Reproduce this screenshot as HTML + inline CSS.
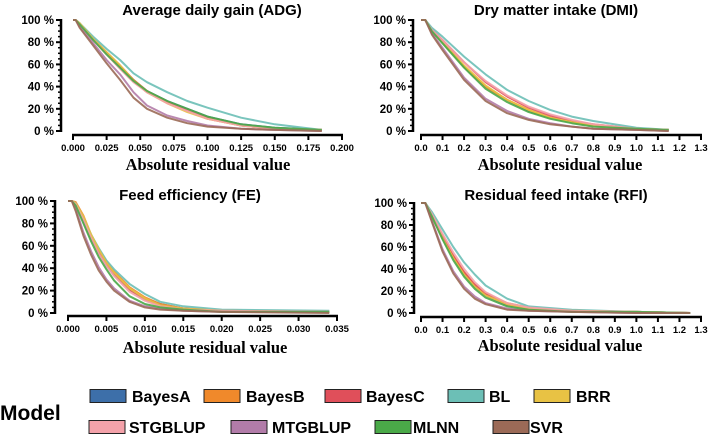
<!DOCTYPE html>
<html><head><meta charset="utf-8"><style>
body{margin:0;background:#fff;}
svg{display:block;font-family:"Liberation Sans",sans-serif;}
</style></head><body>
<svg id="c" width="708" height="435" viewBox="0 0 708 435"></svg>
<script>
const seriesNames=["BayesA","BayesB","BayesC","BL","BRR","STGBLUP","MTGBLUP","MLNN","SVR"];
const seriesColors=["#3d6fa9","#f0892b","#e04f5a","#6cbfb6","#e8c244","#f4a2aa","#b27ca9","#4aa948","#9b6a57"];
// ADG
const adgX=[0,0.002,0.005,0.015,0.025,0.035,0.045,0.055,0.07,0.085,0.1,0.125,0.15,0.185];
const adgBayesA=[100,100,96,82,70,58,46,36,27,20,13,6,3,1];
const adgBayesB=[100,100,97,83,71,59,46,36,26,18,11,5,2,1];
const adgBayesC=[100,100,96,82,70,58,45,35,26,19,12,5,2,1];
const adgBL=[100,100,97,85,74,64,52,44,35,27,21,12,6,1];
const adgBRR=[100,100,97,83,71,59,45,35,25,17,11,5,2,1];
const adgSTGBLUP=[100,100,96,82,69,56,44,35,25,18,11,5,2,1];
const adgMTGBLUP=[100,100,94,79,64,51,35,23,14,9,5,2,1,0];
const adgMLNN=[100,100,96,82,69,57,45,36,27,20,13,6,3,1];
const adgSVR=[100,100,93,77,61,46,30,20,12,7,4,2,1,0];
// DMI
const dmiX=[0,0.02,0.05,0.1,0.2,0.3,0.4,0.5,0.6,0.7,0.8,1.0,1.15];
const dmiBayesA=[100,100,90,80,58,40,28,18,12,8,5,2,1];
const dmiBayesB=[100,100,90,80,58,40,28,19,12,8,5,2,1];
const dmiBayesC=[100,100,91,82,62,44,31,21,14,9,6,2,1];
const dmiBL=[100,100,93,85,67,51,37,27,19,13,9,3,1];
const dmiBRR=[100,100,90,80,59,41,28,19,12,8,5,2,1];
const dmiSTGBLUP=[100,100,91,82,62,45,32,22,15,10,6,2,1];
const dmiMTGBLUP=[100,100,88,75,48,29,18,11,7,4,2,1,0];
const dmiMLNN=[100,100,90,79,57,38,26,17,11,7,4,2,1];
const dmiSVR=[100,100,87,73,46,27,16,10,6,4,2,1,0];
// FE
const feX=[0,0.0005,0.001,0.002,0.003,0.004,0.005,0.006,0.008,0.010,0.012,0.015,0.02,0.034];
const feBayesA=[100,100,97,82,66,54,43,34,21,13,8,4,2,1];
const feBayesB=[100,100,99,87,70,57,46,37,23,14,8,4,2,1];
const feBayesC=[100,100,98,84,68,55,44,35,21,12,7,4,2,1];
const feBL=[100,100,98,85,70,58,47,39,26,17,10,6,3,2];
const feBRR=[100,100,98,86,70,57,45,36,22,13,7,4,2,1];
const feSTGBLUP=[100,100,97,83,67,53,42,33,19,11,6,3,2,1];
const feMTGBLUP=[100,100,93,72,55,41,30,22,11,6,4,2,1,1];
const feMLNN=[100,100,96,80,64,50,39,29,15,8,5,3,1,1];
const feSVR=[100,100,91,69,52,38,28,20,10,5,3,2,1,0];
// RFI
const rfiX=[0,0.02,0.05,0.1,0.15,0.2,0.25,0.3,0.4,0.5,0.7,1.0,1.25];
const rfiBayesA=[100,100,88,68,50,35,24,16,7,4,2,1,0];
const rfiBayesB=[100,100,89,70,52,37,26,18,9,5,2,1,0];
const rfiBayesC=[100,100,89,70,52,37,26,17,8,4,2,1,0];
const rfiBL=[100,100,92,76,60,46,35,25,13,6,3,1,0];
const rfiBRR=[100,100,88,68,50,35,24,16,8,4,2,1,0];
const rfiSTGBLUP=[100,100,90,72,55,40,28,19,9,5,2,1,0];
const rfiMTGBLUP=[100,100,84,58,38,24,15,9,4,2,1,0,0];
const rfiMLNN=[100,100,88,67,48,33,22,14,6,3,1,1,0];
const rfiSVR=[100,100,83,56,36,22,13,8,3,2,1,0,0];
const yTicks=[0,20,40,60,80,100];
const adgTicks=["0.000","0.025","0.050","0.075","0.100","0.125","0.150","0.175","0.200"];
const feTicks=["0.000","0.005","0.010","0.015","0.020","0.025","0.030","0.035"];
const rTicks=["0.0","0.1","0.2","0.3","0.4","0.5","0.6","0.7","0.8","0.9","1.0","1.1","1.2","1.3"];

const NS="http://www.w3.org/2000/svg";
const svg=document.getElementById('c');
function mk(t,a,p){const e=document.createElementNS(NS,t);for(const k in a)e.setAttribute(k,a[k]);(p||svg).appendChild(e);return e;}

function chart(cfg){
  const g=mk('g',{});
  
  
  const sx=v=>cfg.x0+(v-cfg.xmin)/(cfg.xmax-cfg.xmin)*(cfg.x1-cfg.x0);
  const sy=v=>cfg.yb+(v/100)*(cfg.yt-cfg.yb);
  const t=mk('text',{x:cfg.tx,y:cfg.ty,'text-anchor':'middle','font-size':'15','font-weight':'bold',fill:'#000'},g);
  t.textContent=cfg.title;
  
  
  const ya=mk('line',{x1:cfg.ax,x2:cfg.ax,y1:sy(100)-1,y2:sy(0)+1,stroke:'#000','stroke-width':2.5},g);
  
  
  for(let v=0;v<=100;v+=5){
    const major=v%20===0;
    mk('line',{x1:cfg.ax-(major?5:3),x2:cfg.ax,y1:sy(v),y2:sy(v),stroke:'#000','stroke-width':major?2:1.5},g);
  }
  yTicks.forEach(v=>{
    const l=mk('text',{x:cfg.ax-7,y:sy(v)+4,'text-anchor':'end','font-size':'11.5','font-weight':'bold'},g);
    l.textContent=v+' %';
    
    
  });
  const xa=mk('line',{x1:cfg.x0-1,x2:cfg.x1+1,y1:cfg.ay,y2:cfg.ay,stroke:'#000','stroke-width':2.5},g);
  
  
  const n=cfg.ticks.length;
  cfg.ticks.forEach((s,i)=>{
    const v=cfg.xmin+i*(cfg.xmax-cfg.xmin)/(n-1);
    mk('line',{x1:sx(v),x2:sx(v),y1:cfg.ay,y2:cfg.ay+5,stroke:'#000','stroke-width':2},g);
    const l=mk('text',{x:sx(v),y:cfg.ay+16,'text-anchor':'middle','font-size':cfg.tfs,'font-weight':'bold'},g);
    l.textContent=s;
    
    
  });
  const xl=mk('text',{x:cfg.lx,y:cfg.ly,'text-anchor':'middle','font-size':'16.5','font-weight':'bold','font-family':'"Liberation Serif",serif'},g);
  xl.textContent='Absolute residual value';
  
  
  cfg.series.forEach((ys,si)=>{
    const pts=cfg.xs.map((x,i)=>sx(x).toFixed(1)+','+sy(ys[i]).toFixed(1)).join(' ');
    const p=mk('polyline',{points:pts,fill:'none',stroke:seriesColors[si],'stroke-width':2,'stroke-linejoin':'round','stroke-opacity':0.9},g);
    
    
  });
}
chart({name:'chart-adg',title:'Average daily gain (ADG)',tx:212,ty:15,ax:61,ay:135,yt:20,yb:131,x0:73,x1:342,xmin:0,xmax:0.2,ticks:adgTicks,tfs:'9.5',lx:208,ly:170,xs:adgX,
 series:[adgBayesA,adgBayesB,adgBayesC,adgBL,adgBRR,adgSTGBLUP,adgMTGBLUP,adgMLNN,adgSVR]});
chart({name:'chart-dmi',title:'Dry matter intake (DMI)',tx:556,ty:15,ax:413,ay:135,yt:20,yb:131,x0:421,x1:701,xmin:0,xmax:1.3,ticks:rTicks,tfs:'9.5',lx:560,ly:170,xs:dmiX,
 series:[dmiBayesA,dmiBayesB,dmiBayesC,dmiBL,dmiBRR,dmiSTGBLUP,dmiMTGBLUP,dmiMLNN,dmiSVR]});
chart({name:'chart-fe',title:'Feed efficiency (FE)',tx:190,ty:200,ax:55,ay:316,yt:201,yb:313,x0:68,x1:337,xmin:0,xmax:0.035,ticks:feTicks,tfs:'9.5',lx:205,ly:353,xs:feX,
 series:[feBayesA,feBayesB,feBayesC,feBL,feBRR,feSTGBLUP,feMTGBLUP,feMLNN,feSVR]});
chart({name:'chart-rfi',title:'Residual feed intake (RFI)',tx:556,ty:200,ax:414,ay:317,yt:203,yb:313,x0:421,x1:701,xmin:0,xmax:1.3,ticks:rTicks,tfs:'9.5',lx:560,ly:351,xs:rfiX,
 series:[rfiBayesA,rfiBayesB,rfiBayesC,rfiBL,rfiBRR,rfiSTGBLUP,rfiMTGBLUP,rfiMLNN,rfiSVR]});

const lg=mk('g',{});


const mt=mk('text',{x:0,y:420,'font-size':'21','font-weight':'bold'},lg);
mt.textContent='Model';


const legPos=[[90,396,132],[204,396,246],[325,396,366],[448,396,489],[534,396,576],[89,427,129],[231,427,272],[375,427,413],[493,427,530]];
seriesNames.forEach((nm,i)=>{
  const [x,y,tx]=legPos[i];
  const e=mk('g',{},lg);
  
  
  mk('rect',{x:x,y:y-6.5,width:36,height:13,fill:seriesColors[i],stroke:'#222','stroke-width':1},e);
  const t=mk('text',{x:tx,y:y+6,'font-size':'16','font-weight':'bold'},e);
  t.textContent=nm;
});
</script>
</body></html>
